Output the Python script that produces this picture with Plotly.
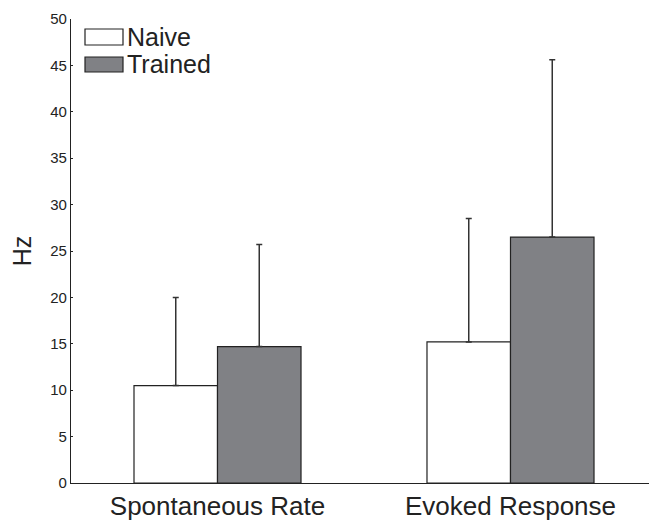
import plotly.graph_objects as go

categories = ["Spontaneous Rate", "Evoked Response"]
naive_mean = [10.5, 15.2]
naive_err = [9.5, 13.3]
trained_mean = [14.7, 26.5]
trained_err = [11.0, 19.1]
y_ticks = [0, 5, 10, 15, 20, 25, 30, 35, 40, 45, 50]

# page body has an 8px margin: figure is offset by (8, 8) in the window
OFF = 8
W, H = 657 - OFF, 521 - OFF
ML, MR, MT, MB = 71 - OFF, 0, 19 - OFF, 38
PW, PH = W - ML - MR, H - MT - MB

x_pos = [1, 2]
font = "Liberation Sans, Arial, Helvetica, sans-serif"

fig = go.Figure()
fig.add_trace(go.Bar(
    x=x_pos, y=naive_mean, name="Naive",
    marker=dict(color="white", line=dict(color="#222222", width=1.2)),
    error_y=dict(type="data", array=naive_err, arrayminus=[0] * len(naive_err),
                 symmetric=False, color="#333333", thickness=1.5, width=3),
    showlegend=False,
))
fig.add_trace(go.Bar(
    x=x_pos, y=trained_mean, name="Trained",
    marker=dict(color="#808185", line=dict(color="#222222", width=1.2)),
    error_y=dict(type="data", array=trained_err, arrayminus=[0] * len(trained_err),
                 symmetric=False, color="#333333", thickness=1.5, width=3),
    showlegend=False,
))

def px2paper(x, y):
    # x, y in window pixels
    return (x - OFF - ML) / PW, (H - MB - (y - OFF)) / PH

shapes = []
annotations = []
legend_items = [("Naive", "white", 29, 45), ("Trained", "#808185", 57, 72)]
for label, col, y0, y1 in legend_items:
    x0p, y0p = px2paper(85, y1)
    x1p, y1p = px2paper(123, y0)
    shapes.append(dict(type="rect", xref="paper", yref="paper", x0=x0p, x1=x1p,
                       y0=y0p, y1=y1p, fillcolor=col,
                       line=dict(color="#222222", width=1.2), layer="above"))
    tx, ty = px2paper(125, (y0 + y1) / 2)
    annotations.append(dict(xref="paper", yref="paper", x=tx, y=ty, text=label,
                            showarrow=False, xanchor="left", yanchor="middle",
                            font=dict(size=25, color="#222222", family=font)))

fig.update_layout(
    width=W, height=H,
    margin=dict(l=ML, r=MR, t=MT, b=MB, pad=0, autoexpand=False),
    paper_bgcolor="white", plot_bgcolor="white",
    barmode="group", bargap=0.43, bargroupgap=0,
    font=dict(family=font, color="#222222"),
    shapes=shapes, annotations=annotations,
    xaxis=dict(range=[0.5, 2.5], tickvals=x_pos, ticktext=categories,
               showline=True, linecolor="#222222", linewidth=1.2, automargin=False,
               ticks="", showgrid=False, zeroline=False, ticklabelstandoff=0,
               tickfont=dict(size=26, color="#222222")),
    yaxis=dict(range=[0, 50], tickvals=y_ticks, showline=True, automargin=False,
               linecolor="#222222", linewidth=1.2, ticks="inside", ticklen=2,
               tickcolor="#222222", showgrid=False, zeroline=False,
               tickfont=dict(size=15, color="#222222"),
               title=dict(text="Hz", font=dict(size=25, color="#222222"), standoff=12)),
)

fig.write_html("out.html")
